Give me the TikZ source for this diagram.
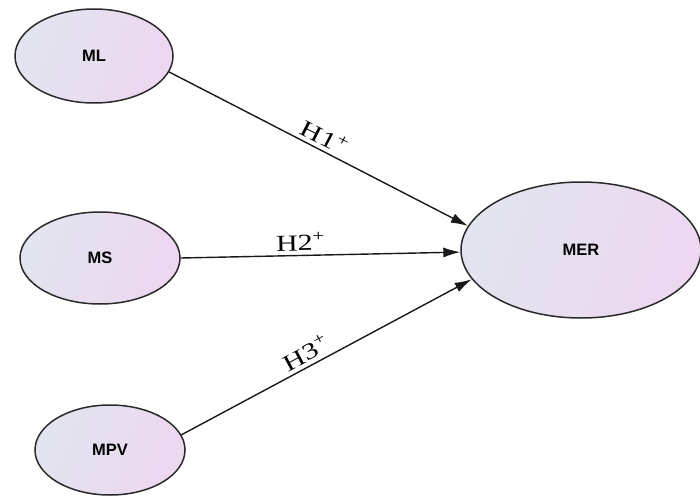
\documentclass[tikz,border=0pt]{standalone}
\usepackage{fontspec}
\setmainfont{Liberation Serif}
\newfontfamily\nodefont{Liberation Sans}
\usetikzlibrary{shapes.geometric,arrows.meta}
\definecolor{bordergray}{HTML}{2A2A2A}
\definecolor{leftfill}{HTML}{E2E5EF}
\definecolor{rightfill}{HTML}{EED7F1}
\tikzset{
  construct/.style={ellipse, draw=bordergray, line width=1.5pt, inner sep=0pt,
    left color=leftfill, right color=rightfill, shading angle=70,
    font=\nodefont\fontsize{16.5}{18}\selectfont\bfseries},
  path/.style={draw=black!90, line width=1.4pt, -{Latex[length=17pt,width=10pt]}},
  hyp/.style={sloped, above, inner sep=4pt,
    font=\fontsize{23}{25}\selectfont, xscale=1.3}
}
\begin{document}
\begin{tikzpicture}[x=1pt,y=-1pt]
\useasboundingbox (0,0) rectangle (700,497);
\node[construct, minimum width=158pt, minimum height=94pt] (ML) at (94,56) {ML};
\node[construct, minimum width=160pt, minimum height=92pt] (MS) at (100,258) {MS};
\node[construct, minimum width=150pt, minimum height=90pt] (MPV) at (110,450) {MPV};
\node[construct, minimum width=240pt, minimum height=136pt] (MER) at (581,250) {MER};
\draw[path] (ML.-12) -- node[hyp, pos=0.5] (h1) {H1\textsuperscript{+}} (MER.168);
\draw[path] (MS.east) -- node[hyp, pos=0.43] (h2) {H2\textsuperscript{+}} (MER.181);
\draw[path] (MPV.12) -- node[hyp, pos=0.45] (h3) {H3\textsuperscript{+}} (MER.195);
\end{tikzpicture}
\end{document}
